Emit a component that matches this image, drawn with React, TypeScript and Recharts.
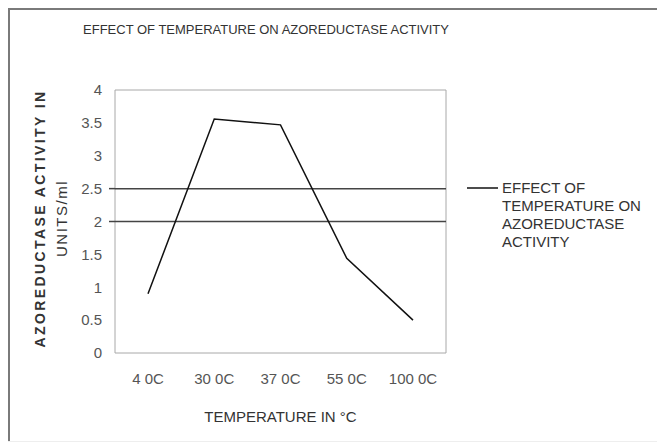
import { CartesianGrid, Label, Legend, Line, LineChart, ReferenceLine, XAxis, YAxis } from "recharts";

const temperatures = ["4 0C", "30 0C", "37 0C", "55 0C", "100 0C"];
const activity = [0.9, 3.56, 3.47, 1.44, 0.5];
const yTicks = [0, 0.5, 1, 1.5, 2, 2.5, 3, 3.5, 4];
const gridValues = [2, 2.5];

const seriesName = "EFFECT OF TEMPERATURE ON AZOREDUCTASE ACTIVITY";
const title = "EFFECT OF TEMPERATURE ON AZOREDUCTASE ACTIVITY";
const xTitle = "TEMPERATURE IN °C";
const yTitle = ["AZOREDUCTASE ACTIVITY IN", "UNITS/ml"];

const data = temperatures.map((t, i) => ({ temp: t, value: activity[i] }));

const FONT = '"Liberation Sans", Arial, sans-serif';
const W = 657;
const H = 434;
const LEGEND_W = 200;
// right margin leaves room for the legend, which recharts adds on top
const M = { top: 82, right: 219 - LEGEND_W, bottom: 59, left: 57 };
const Y_W = 50;
const X_H = 30;
const plotLeft = M.left + Y_W;
const plotRight = W - 219;
const plotTop = M.top;
const plotBottom = H - M.bottom - X_H;

function YTick(props: any) {
  const { x, y, payload } = props;
  const v = payload.value;
  return (
    <g>
      <text x={x - 13} y={y} dy="0.35em" textAnchor="end" fontSize={15} fill="#555" fontFamily={FONT}>
        {v}
      </text>
      {gridValues.includes(v) ? <line x1={x - 6} x2={x} y1={y} y2={y} stroke="#444" strokeWidth={1.5} /> : null}
    </g>
  );
}

function XTitle(props: any) {
  const vb = props.viewBox;
  return (
    <text x={vb.x + vb.width / 2} y={vb.y + 64} dy="0.35em" textAnchor="middle" fontSize={15} fill="#333" fontFamily={FONT}>
      {xTitle}
    </text>
  );
}

function YTitle(props: any) {
  const vb = props.viewBox;
  const cy = vb.y + vb.height / 2 - 3;
  const x1 = vb.x - 25;
  const x2 = vb.x - 3;
  return (
    <g fontFamily={FONT} fill="#333">
      <text x={x1} y={cy} dy="0.35em" textAnchor="middle" fontSize={14} fontWeight="bold" letterSpacing={2.4} transform={`rotate(-90 ${x1} ${cy})`}>
        {yTitle[0]}
      </text>
      <text x={x2} y={cy} dy="0.35em" textAnchor="middle" fontSize={15} letterSpacing={1.5} transform={`rotate(-90 ${x2} ${cy})`}>
        {yTitle[1]}
      </text>
    </g>
  );
}

function LegendBox() {
  return (
    <div style={{ display: "flex", alignItems: "flex-start", fontFamily: FONT }}>
      <svg width={35} height={18} style={{ flex: "none" }}>
        <line x1={0} x2={31} y1={9} y2={9} stroke="#111" strokeWidth={1.5} />
      </svg>
      <div style={{ width: 160, fontSize: 15, lineHeight: "18px", color: "#333" }}>{seriesName}</div>
    </div>
  );
}

export default function App() {
  return (
    <div style={{ position: "relative", width: W, height: H, background: "#fff" }}>
      <div style={{ position: "absolute", left: 0, top: 0, right: 0, height: 2, background: "#7a7a7a" }} />
      <div style={{ position: "absolute", left: 0, top: 0, bottom: 0, width: 2, background: "#7a7a7a" }} />
      <div style={{ position: "absolute", left: 0, bottom: 0, right: 0, height: 1, background: "#eee" }} />
      <div
        style={{
          position: "absolute",
          left: 0,
          top: 14,
          width: 516,
          textAlign: "center",
          fontFamily: FONT,
          fontSize: 13,
          lineHeight: "16px",
          color: "#333",
          zIndex: 2,
        }}
      >
        {title}
      </div>
      <LineChart width={W} height={H} data={data} margin={M}>
        <CartesianGrid
          stroke="#a8a8a8"
          horizontalPoints={[plotTop, plotBottom]}
          verticalPoints={[plotLeft, plotRight]}
        />
        <XAxis
          dataKey="temp"
          height={X_H}
          padding={{ left: 33, right: 33 }}
          tickSize={0}
          tickMargin={20}
          axisLine={false}
          tick={{ fontSize: 15, fill: "#555", fontFamily: FONT }}
        >
          <Label content={<XTitle />} />
        </XAxis>
        <YAxis
          width={Y_W}
          domain={[0, 4]}
          ticks={yTicks}
          tickSize={0}
          tickMargin={0}
          axisLine={false}
          tick={<YTick />}
        >
          <Label content={<YTitle />} />
        </YAxis>
        {gridValues.map((v) => (
          <ReferenceLine key={v} y={v} stroke="#444" strokeWidth={1.5} />
        ))}
        <Legend
          layout="vertical"
          align="right"
          verticalAlign="middle"
          content={<LegendBox />}
          wrapperStyle={{ position: "absolute", left: 459, top: 171, width: LEGEND_W }}
        />
        <Line
          type="linear"
          dataKey="value"
          name={seriesName}
          stroke="#111"
          strokeWidth={1.5}
          dot={false}
          isAnimationActive={false}
        />
      </LineChart>
    </div>
  );
}
